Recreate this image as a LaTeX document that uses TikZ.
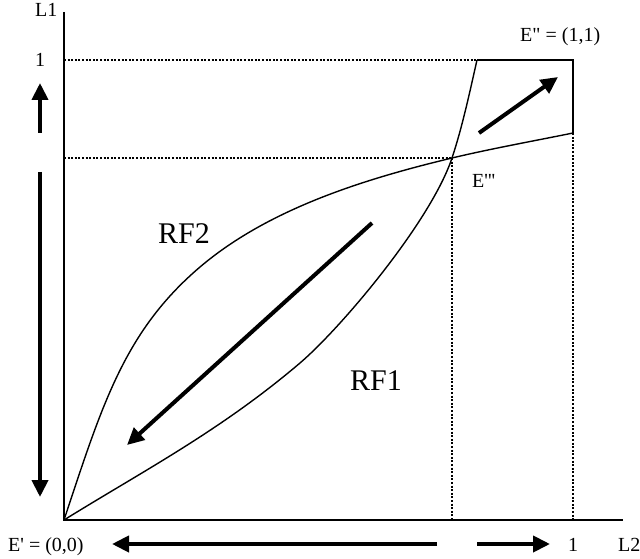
\documentclass[tikz,border=0pt]{standalone}
\usepackage{fontspec}
\setmainfont{Liberation Serif}
\usetikzlibrary{arrows.meta}
\begin{document}
\begin{tikzpicture}[x=1pt,y=-1pt,
  axis/.style={line width=2pt},
  curve/.style={line width=1.4pt},
  dots/.style={line width=2.2pt, dash pattern=on 2pt off 1.6pt},
  bigarrow/.style={line width=4pt, -{Triangle[length=17pt,width=16pt]}},
  lab/.style={font=\fontsize{20}{24}\selectfont, inner sep=0pt, anchor=base west},
  rflab/.style={font=\fontsize{30}{36}\selectfont, inner sep=0pt, anchor=base west}]
\useasboundingbox (0,0) rectangle (640,559);
% key points
\coordinate (O) at (64,520);
\coordinate (Ytop) at (64,12);
\coordinate (Xend) at (623,520);
\coordinate (Y1) at (64,60);
\coordinate (Ye) at (64,158);
\coordinate (E3) at (452,158);
\coordinate (Q1) at (477,60);
\coordinate (Q2) at (573,60);
\coordinate (Q3) at (573,133);
\coordinate (X3) at (452,520);
\coordinate (X1) at (573,520);
\coordinate (M1) at (300,363);
\coordinate (N2) at (200,267);
% axes
\draw[axis] (Ytop) -- (O) -- (Xend);
% dotted guides
\draw[dots] (Y1) -- (Q1);
\draw[dots] (Ye) -- (E3);
\draw[dots] (E3) -- (X3);
\draw[dots] (Q3) -- (X1);
% box edges
\draw[line width=1.8pt] (Q1) -- (Q2) -- (Q3);
% RF1
\draw[curve] (O) .. controls (144,470.4) and (220,431) .. (M1)
  .. controls (342,327) and (431,221) .. (E3)
  .. controls (462.4,126.7) and (469.7,92.2) .. (Q1);
% RF2
\draw[curve] (O) .. controls (101.9,406.1) and (123.8,331.8) .. (N2)
  .. controls (268.6,208.7) and (364.5,179) .. (E3)
  .. controls (490.9,148.7) and (533.8,141) .. (Q3);
% arrows
\coordinate (AupS) at (40,133);
\coordinate (AupE) at (40,83);
\coordinate (AdnS) at (40,172);
\coordinate (AdnE) at (40,497);
\coordinate (AlS) at (437,544);
\coordinate (AlE) at (112,544);
\coordinate (ArS) at (477,544);
\coordinate (ArE) at (550,544);
\coordinate (AmS) at (372,223);
\coordinate (AmE) at (127,445);
\coordinate (AqS) at (479,133);
\coordinate (AqE) at (558,77);
\draw[bigarrow] (AupS) -- (AupE);
\draw[bigarrow] (AdnS) -- (AdnE);
\draw[bigarrow] (AlS) -- (AlE);
\draw[bigarrow] (ArS) -- (ArE);
\draw[bigarrow] (AmS) -- (AmE);
\draw[bigarrow] (AqS) -- (AqE);
% labels
\node[lab] (tL1) at (35,17) {L1};
\node[lab] (tone) at (35,67) {1};
\node[lab] (tE2) at (520,42) {E\textquotedbl{} = (1,1)};
\node[lab] (tE3) at (472,187) {E\textquotesingle\textquotesingle\textquotesingle};
\node[rflab] (tRF2) at (158,243) {RF2};
\node[rflab] (tRF1) at (350,390) {RF1};
\node[lab] (tE1) at (8,551) {E\textquotesingle{} = (0,0)};
\node[lab] (tonex) at (568,551) {1};
\node[lab] (tL2) at (618,551) {L2};
\end{tikzpicture}
\end{document}
